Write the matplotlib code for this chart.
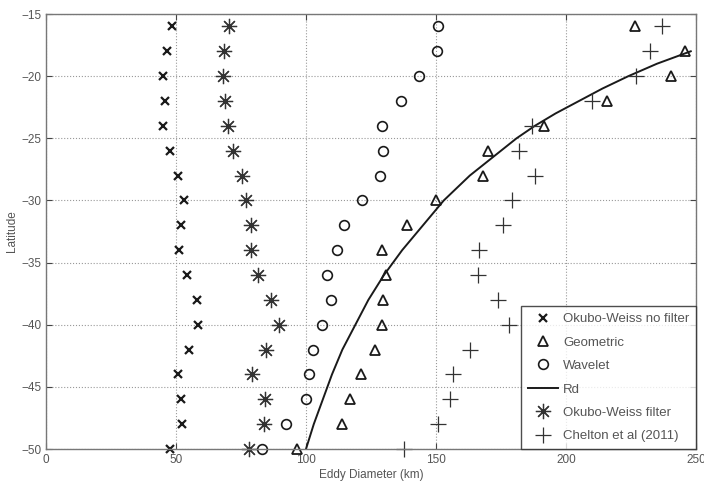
import numpy as np
import matplotlib.pyplot as plt

plt.rcParams['font.family'] = ['Liberation Sans', 'DejaVu Sans']

# latitudes des points (tous les 2 degrés)
lat = [-16, -18, -20, -22, -24, -26, -28, -30, -32, -34,
       -36, -38, -40, -42, -44, -46, -48, -50]

ow_nofilter = [48.3, 46.7, 44.9, 45.6, 45.1, 47.8, 50.6, 53.1, 51.8, 51.3,
               54.3, 58.0, 58.6, 55.1, 50.9, 51.9, 52.2, 47.7]
geometric = [226.5, 245.8, 240.4, 215.6, 191.7, 170.1, 168.2, 149.9, 139.0, 129.1,
             130.8, 129.7, 129.4, 126.5, 121.2, 117.0, 113.7, 96.4]
wavelet = [150.9, 150.5, 143.5, 136.5, 129.1, 129.7, 128.5, 121.4, 114.6, 111.8,
           108.0, 109.6, 106.3, 102.8, 101.3, 100.0, 92.3, 83.2]
ow_filter = [70.3, 68.3, 68.1, 69.0, 70.0, 71.8, 75.3, 76.9, 78.7, 78.7,
             81.4, 86.4, 89.7, 84.6, 79.4, 84.2, 83.8, 78.0]
chelton = [236.8, 232.3, 226.8, 209.9, 186.8, 182.0, 188.1, 179.3, 175.9, 166.7,
           166.0, 174.0, 178.2, 163.1, 156.7, 155.4, 150.9, 137.8]

# rayon de deformation (courbe)
lat_rd = [-18, -19, -20, -21, -22, -23, -24, -25, -26, -27, -28, -29, -30,
          -32, -34, -36, -38, -40, -42, -44, -46, -48, -50]
rd = [248, 235, 224, 214, 205, 196, 188, 181, 175, 169, 163, 158, 153,
      145, 137, 130, 124, 119, 114, 110, 106.5, 103, 100]

col = '#1a1a1a'

fig = plt.figure(figsize=(7.04, 4.93), dpi=100)
ax = fig.add_axes([0.0653, 0.0892, 0.9233, 0.8824])

ax.plot(ow_nofilter, lat, 'x', color=col, ms=5.5, mew=1.6, ls='none',
        label='Okubo-Weiss no filter', clip_on=False)
ax.plot(geometric, lat, '^', color=col, ms=7, mew=1.3, mfc='none', ls='none',
        label='Geometric', clip_on=False)
ax.plot(wavelet, lat, 'o', color=col, ms=7, mew=1.2, mfc='none', ls='none',
        label='Wavelet', clip_on=False)
ax.plot(rd, lat_rd, '-', color=col, lw=1.4, label='Rd')
ax.plot(ow_filter, lat, marker=(8, 2, 0), color='#333333', ms=11, mew=0.9,
        ls='none', label='Okubo-Weiss filter', clip_on=False)
ax.plot(chelton, lat, '+', color='#333333', ms=11, mew=0.9, ls='none',
        label='Chelton et al (2011)', clip_on=False)

ax.set_xlim(0, 250)
ax.set_ylim(-50, -15)
ax.set_xticks(np.arange(0, 251, 50))
ax.set_yticks(np.arange(-50, -14, 5))

ax.grid(True, ls=':', color='#999999', lw=0.8)
ax.tick_params(direction='in', top=True, right=True, length=4,
               labelsize=8.5, colors='#444444', labelcolor='#555555')
for s in ax.spines.values():
    s.set_color('#777777')
    s.set_linewidth(1.0)

ax.set_xlabel('Eddy Diameter (km)', fontsize=8.5, color='#555555', labelpad=2)
ax.set_ylabel('Latitude', fontsize=8.5, color='#555555', labelpad=2)

leg = ax.legend(loc='lower right', fontsize=9.5, frameon=True, fancybox=False,
                borderaxespad=0.0, numpoints=1, handlelength=2.3,
                handletextpad=0.4, labelspacing=0.85, borderpad=0.5)
leg.get_frame().set_edgecolor('#222222')
leg.get_frame().set_linewidth(1.0)
for t in leg.get_texts():
    t.set_color('#555555')

fig.savefig('out.png', dpi=100)
